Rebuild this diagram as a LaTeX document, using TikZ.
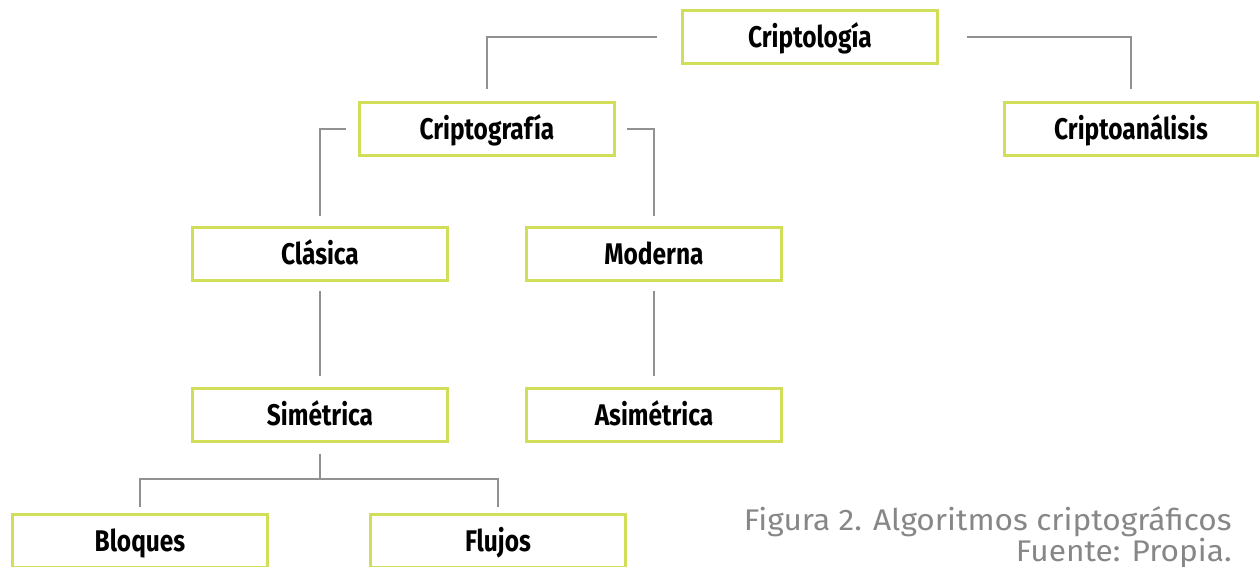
\documentclass[tikz,border=0pt]{standalone}
\usepackage{fontspec}
\setmainfont{Fira Sans}
\newfontfamily\boxfont[FakeStretch=0.82]{Fira Sans}
\newfontfamily\capfont[FakeStretch=1.06]{Fira Sans}
\usepackage{tikz}
\definecolor{boxlime}{RGB}{208,222,88}
\definecolor{linkgray}{RGB}{145,145,145}
\definecolor{captiongray}{RGB}{135,135,135}

\begin{document}
\begin{tikzpicture}[x=0.02cm,y=-0.02cm,
        cbox/.style={draw=boxlime, line width=1.7pt, minimum width=5.12cm, minimum height=1.06cm,
            inner sep=0pt, text height=0.42cm, text depth=0cm,
            font=\boxfont\bfseries\fontsize{17}{20}\selectfont},
        link/.style={linkgray, line width=0.7pt},
        caption/.style={text=captiongray, align=right, inner sep=0pt,
            font=\capfont\fontsize{17}{14.6}\selectfont}]
        \useasboundingbox (0,0) rectangle (1259,567);
        % boxes
        \node[cbox] (logia) at (810,37) {Criptología};
        \node[cbox, minimum width=5.08cm] (analisis) at (1131,129) {Criptoanálisis};
        \node[cbox] (grafia) at (487,129) {Criptografía};
        \node[cbox] (clasica) at (320,254) {Clásica};
        \node[cbox] (moderna) at (654,254) {Moderna};
        \node[cbox] (simetrica) at (320,415) {Simétrica};
        \node[cbox] (asimetrica) at (654,415) {Asimétrica};
        \node[cbox] (bloques) at (140,541) {Bloques};
        \node[cbox] (flujos) at (498,541) {Flujos};
        % links
        \draw[link] ([xshift=-0.48cm]logia.west) -| ([yshift=0.24cm]grafia.north);
        \draw[link] ([xshift=0.56cm]logia.east) -| ([yshift=0.24cm]analisis.north);
        \draw[link] ([xshift=-0.24cm]grafia.west) -| ([yshift=0.2cm]clasica.north);
        \draw[link] ([xshift=0.22cm]grafia.east) -| ([yshift=0.2cm]moderna.north);
        \draw[link] ([yshift=-0.18cm]clasica.south) -- ([yshift=0.22cm]simetrica.north);
        \draw[link] ([yshift=-0.18cm]moderna.south) -- ([yshift=0.22cm]asimetrica.north);
        \draw[link] ([yshift=-0.22cm]simetrica.south) -- ++(0,-0.5cm) coordinate (fork);
        \draw[link] ([yshift=0.12cm]bloques.north) |- (fork) -| ([yshift=0.12cm]flujos.north);
        % caption
        \node[caption, anchor=north east] (caption) at (1232,506)
            {Figura 2. Algoritmos criptográficos\\Fuente: Propia.};
\end{tikzpicture}
\end{document}
